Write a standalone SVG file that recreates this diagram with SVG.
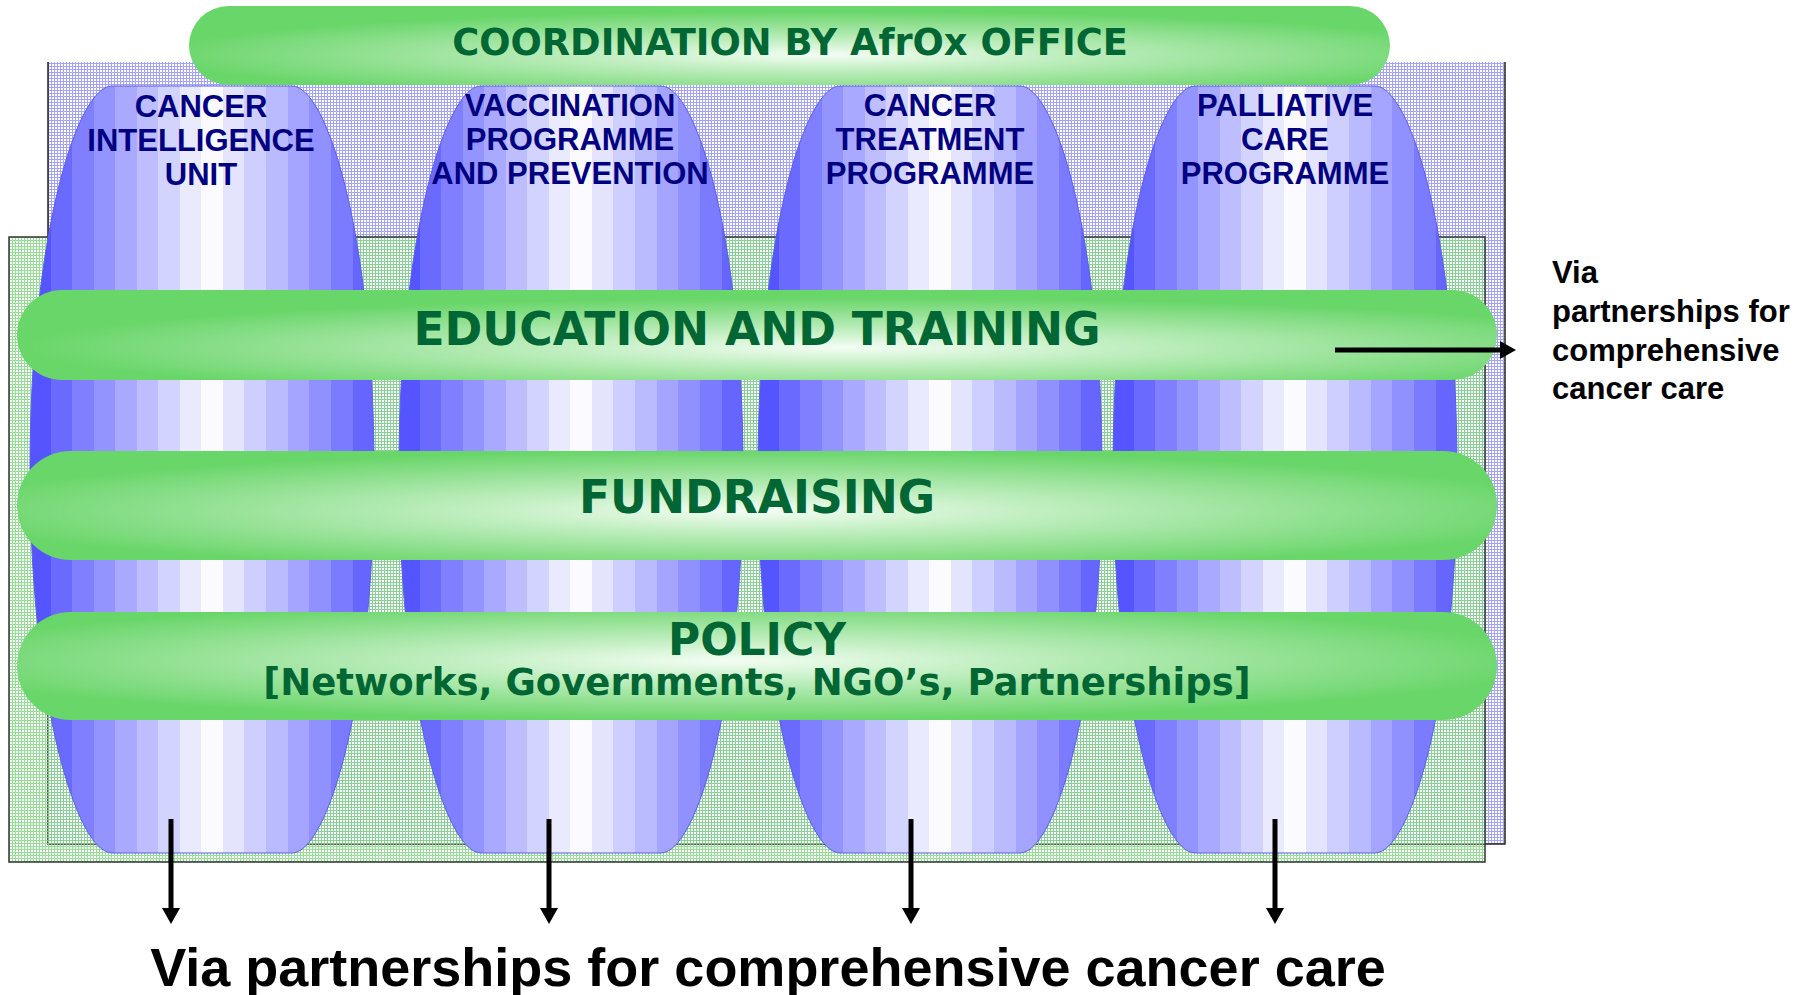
<svg xmlns="http://www.w3.org/2000/svg" width="1813" height="995" viewBox="0 0 1813 995">
<defs>
<style>
.bar-t{font-family:"DejaVu Sans",Verdana,sans-serif;font-weight:bold;fill:#006633;text-anchor:middle}
.lab{font-family:"Liberation Sans",Arial,sans-serif;font-weight:bold;fill:#000080;font-size:31px;text-anchor:middle}
.via{font-family:"Liberation Sans",Arial,sans-serif;font-weight:bold;fill:#000}
.col{fill:url(#colg);stroke:#5c5cf0;stroke-width:1}
.arr{stroke:#000;stroke-width:5;fill:none;marker-end:url(#ah)}
</style>
<pattern id="pb" width="3" height="3" patternUnits="userSpaceOnUse">
<rect width="3" height="3" fill="#ffffff"/>
<path d="M0 0.5H3M0.5 0V3" stroke="#a4a4f6" stroke-width="1"/>
</pattern>
<pattern id="pg" width="3" height="3" patternUnits="userSpaceOnUse">
<path d="M0 0.5H3M0.5 0V3" stroke="#84d884" stroke-width="1" opacity="0.85"/>
</pattern>
<linearGradient id="colg" x1="0" y1="0" x2="1" y2="0">
<stop offset="0" stop-color="#5555ff"/><stop offset="0.061" stop-color="#5555ff"/>
<stop offset="0.061" stop-color="#6a6aff"/><stop offset="0.122" stop-color="#6a6aff"/>
<stop offset="0.122" stop-color="#7f7fff"/><stop offset="0.186" stop-color="#7f7fff"/>
<stop offset="0.186" stop-color="#9494ff"/><stop offset="0.247" stop-color="#9494ff"/>
<stop offset="0.247" stop-color="#a9a9ff"/><stop offset="0.311" stop-color="#a9a9ff"/>
<stop offset="0.311" stop-color="#bebeff"/><stop offset="0.372" stop-color="#bebeff"/>
<stop offset="0.372" stop-color="#d3d3ff"/><stop offset="0.436" stop-color="#d3d3ff"/>
<stop offset="0.436" stop-color="#eaeaff"/><stop offset="0.497" stop-color="#eaeaff"/>
<stop offset="0.497" stop-color="#fafaff"/><stop offset="0.561" stop-color="#fafaff"/>
<stop offset="0.561" stop-color="#e4e4ff"/><stop offset="0.622" stop-color="#e4e4ff"/>
<stop offset="0.622" stop-color="#cfcfff"/><stop offset="0.686" stop-color="#cfcfff"/>
<stop offset="0.686" stop-color="#babaff"/><stop offset="0.750" stop-color="#babaff"/>
<stop offset="0.750" stop-color="#a5a5ff"/><stop offset="0.811" stop-color="#a5a5ff"/>
<stop offset="0.811" stop-color="#9090ff"/><stop offset="0.875" stop-color="#9090ff"/>
<stop offset="0.875" stop-color="#7b7bff"/><stop offset="0.939" stop-color="#7b7bff"/>
<stop offset="0.939" stop-color="#6666ff"/><stop offset="1" stop-color="#6666ff"/>
</linearGradient>
<radialGradient id="gCoord" cx="0.53" cy="0.62" r="0.56">
<stop offset="0" stop-color="#f4fdf4"/><stop offset="0.35" stop-color="#bfeebf"/><stop offset="0.72" stop-color="#8ddf8d"/><stop offset="1" stop-color="#68d668"/>
</radialGradient>
<radialGradient id="gEdu" cx="0.56" cy="0.64" r="0.56">
<stop offset="0" stop-color="#f4fdf4"/><stop offset="0.35" stop-color="#bfeebf"/><stop offset="0.72" stop-color="#8ddf8d"/><stop offset="1" stop-color="#68d668"/>
</radialGradient>
<radialGradient id="gFund" cx="0.5" cy="0.55" r="0.56">
<stop offset="0" stop-color="#f4fdf4"/><stop offset="0.35" stop-color="#bfeebf"/><stop offset="0.72" stop-color="#8ddf8d"/><stop offset="1" stop-color="#68d668"/>
</radialGradient>
<radialGradient id="gPol" cx="0.48" cy="0.45" r="0.56">
<stop offset="0" stop-color="#f4fdf4"/><stop offset="0.35" stop-color="#bfeebf"/><stop offset="0.72" stop-color="#8ddf8d"/><stop offset="1" stop-color="#68d668"/>
</radialGradient>
<marker id="ah" viewBox="0 0 16 18" refX="0" refY="9" markerWidth="16" markerHeight="18" markerUnits="userSpaceOnUse" orient="auto">
<path d="M0 0L16 9L0 18Z" fill="#000"/>
</marker>
</defs>

<g id="background">
<rect x="48" y="62" width="1457" height="782" fill="url(#pb)"/>
<path d="M48 62V844H1505V62" fill="none" stroke="#222" stroke-width="1.5"/>
<rect x="9" y="237" width="1476" height="625" fill="url(#pg)" stroke="#333" stroke-width="1.5"/>
</g>

<g id="col-intelligence">
<path class="col" d="M112 86L292 86C327 86 374 236 374 469.5C374 703 327 853 292 853L112 853C77 853 30 703 30 469.5C30 236 77 86 112 86Z"/>
<text class="lab" x="201" y="117">CANCER</text>
<text class="lab" x="201" y="151">INTELLIGENCE</text>
<text class="lab" x="201" y="185">UNIT</text>
</g>
<g id="col-vaccination">
<path class="col" d="M481 86L661 86C696 86 743 236 743 469.5C743 703 696 853 661 853L481 853C446 853 399 703 399 469.5C399 236 446 86 481 86Z"/>
<text class="lab" x="570" y="116">VACCINATION</text>
<text class="lab" x="570" y="150">PROGRAMME</text>
<text class="lab" x="570" y="184">AND PREVENTION</text>
</g>
<g id="col-treatment">
<path class="col" d="M840 86L1020 86C1055 86 1102 236 1102 469.5C1102 703 1055 853 1020 853L840 853C805 853 758 703 758 469.5C758 236 805 86 840 86Z"/>
<text class="lab" x="930" y="116">CANCER</text>
<text class="lab" x="930" y="150">TREATMENT</text>
<text class="lab" x="930" y="184">PROGRAMME</text>
</g>
<g id="col-palliative">
<path class="col" d="M1195 86L1375 86C1410 86 1457 236 1457 469.5C1457 703 1410 853 1375 853L1195 853C1160 853 1113 703 1113 469.5C1113 236 1160 86 1195 86Z"/>
<text class="lab" x="1285" y="116">PALLIATIVE</text>
<text class="lab" x="1285" y="150">CARE</text>
<text class="lab" x="1285" y="184">PROGRAMME</text>
</g>

<g id="bar-coordination">
<rect x="189" y="6" width="1201" height="79" rx="40" ry="40" fill="url(#gCoord)"/>
<text class="bar-t" x="790" y="55" font-size="36.8">COORDINATION BY AfrOx OFFICE</text>
</g>
<g id="bar-education">
<rect x="17" y="290" width="1480" height="90" rx="45" ry="45" fill="url(#gEdu)"/>
<text class="bar-t" x="757" y="345" font-size="45.5">EDUCATION AND TRAINING</text>
</g>
<g id="bar-fundraising">
<rect x="17" y="451" width="1480" height="109" rx="54" ry="54" fill="url(#gFund)"/>
<text class="bar-t" x="757" y="513" font-size="45.5">FUNDRAISING</text>
</g>
<g id="bar-policy">
<rect x="17" y="612" width="1480" height="108" rx="54" ry="54" fill="url(#gPol)"/>
<text class="bar-t" x="757" y="655" font-size="44">POLICY</text>
<text class="bar-t" x="757" y="695" font-size="37">[Networks, Governments, NGO’s, Partnerships]</text>
</g>

<g id="connectors">
<line class="arr" x1="1335" y1="350" x2="1500" y2="350"/>
<line class="arr" x1="171" y1="819" x2="171" y2="908"/>
<line class="arr" x1="549" y1="819" x2="549" y2="908"/>
<line class="arr" x1="911" y1="819" x2="911" y2="908"/>
<line class="arr" x1="1275" y1="819" x2="1275" y2="908"/>
</g>

<g id="side-label">
<text class="via" font-size="31"><tspan x="1552" y="283">Via</tspan><tspan x="1552" y="322">partnerships for</tspan><tspan x="1552" y="361">comprehensive</tspan><tspan x="1552" y="399">cancer care</tspan></text>
</g>
<g id="bottom-label">
<text class="via" x="768" y="986" font-size="54" text-anchor="middle">Via partnerships for comprehensive cancer care</text>
</g>
</svg>
